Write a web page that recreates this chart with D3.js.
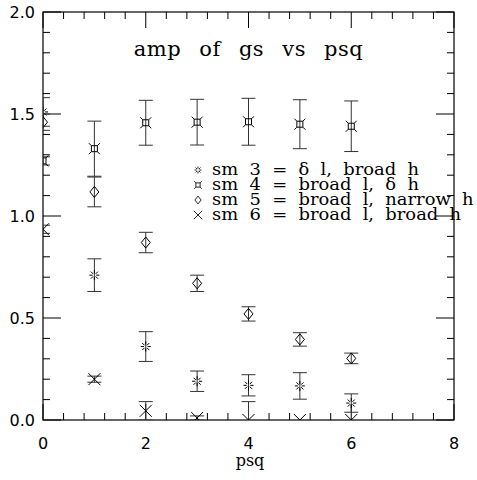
<html>
<head>
<meta charset="utf-8">
<title>amp of gs vs psq</title>
<script src="https://cdnjs.cloudflare.com/ajax/libs/d3/7.8.5/d3.min.js"></script>
<style>
  body { margin: 0; background: #fff; }
  text { fill: #000; }
</style>
</head>
<body>
<div id="chart"></div>
<script>
  // data
  const psq = [0, 1, 2, 3, 4, 5, 6];
  const sm3 = [1.51, 0.71, 0.36, 0.19, 0.17, 0.167, 0.083];
  const sm3Err = [0.07, 0.08, 0.073, 0.05, 0.052, 0.065, 0.045];
  const sm4 = [1.27, 1.33, 1.457, 1.46, 1.462, 1.45, 1.44];
  const sm4Err = [0.02, 0.135, 0.11, 0.112, 0.115, 0.12, 0.124];
  const sm5 = [1.46, 1.118, 0.87, 0.67, 0.52, 0.395, 0.302];
  const sm5Err = [0.04, 0.073, 0.05, 0.04, 0.035, 0.033, 0.026];
  const sm6 = [0.935, 0.2, 0.045, 0.01, 0.0, 0.0, 0.0];
  const sm6Err = [0.02, 0.015, 0.045, 0.01, 0.09, 0, 0];

  const legendLabels = [
    'sm 3 = \u03b4 l, broad h',
    'sm 4 = broad l, \u03b4 h',
    'sm 5 = broad l, narrow h',
    'sm 6 = broad l, broad h'
  ];
  const xTickLabels = ['0', '2', '4', '6', '8'];
  const yTickLabels = ['0.0', '0.5', '1.0', '1.5', '2.0'];

  const W = 477, H = 480;
  const mLeft = 43, mRight = 454, mTop = 12, mBottom = 420;

  const x = d3.scaleLinear().domain([0, 8]).range([mLeft, mRight]);
  const y = d3.scaleLinear().domain([0, 2]).range([mBottom, mTop]);

  const svg = d3.select('#chart').append('svg')
    .attr('width', W).attr('height', H);

  svg.append('defs').append('clipPath').attr('id', 'plot')
    .append('rect').attr('x', mLeft).attr('y', mTop)
    .attr('width', mRight - mLeft).attr('height', mBottom - mTop);

  // marker paths
  const markers = {
    star: (() => {
      let p = '';
      for (let k = 0; k < 8; k++) {
        const a = k * Math.PI / 4;
        p += `M${(1.8 * Math.cos(a)).toFixed(2)},${(1.8 * Math.sin(a)).toFixed(2)}L${(5 * Math.cos(a)).toFixed(2)},${(5 * Math.sin(a)).toFixed(2)}`;
      }
      return p;
    })(),
    box: 'M-3,-3H3V3H-3Z M-3,-3L-5.5,-5.5 M3,-3L5.5,-5.5 M3,3L5.5,5.5 M-3,3L-5.5,5.5',
    diamond: 'M0,-5.5L4.5,0L0,5.5L-4.5,0Z',
    cross: 'M-6,-6L6,6 M-6,6L6,-6'
  };

  const series = [
    { vals: sm3, err: sm3Err, m: 'star' },
    { vals: sm4, err: sm4Err, m: 'box' },
    { vals: sm5, err: sm5Err, m: 'diamond' },
    { vals: sm6, err: sm6Err, m: 'cross' }
  ];

  // frame
  svg.append('rect')
    .attr('x', mLeft).attr('y', mTop)
    .attr('width', mRight - mLeft).attr('height', mBottom - mTop)
    .attr('fill', 'none').attr('stroke', '#000').attr('stroke-width', 1.2);

  // ticks (pointing inward on all four sides)
  const xMinor = d3.range(0, 8.001, 0.4);
  const yMinor = d3.range(0, 2.001, 0.1);
  const isMajor = (v, step) => Math.abs(v / step - Math.round(v / step)) < 1e-6;
  const ticks = svg.append('g').attr('stroke', '#000').attr('stroke-width', 1);
  xMinor.forEach(v => {
    const len = isMajor(v, 2) ? 16 : 7;
    ticks.append('line').attr('x1', x(v)).attr('x2', x(v)).attr('y1', mBottom).attr('y2', mBottom - len);
    ticks.append('line').attr('x1', x(v)).attr('x2', x(v)).attr('y1', mTop).attr('y2', mTop + len);
  });
  yMinor.forEach(v => {
    const len = isMajor(v, 0.5) ? 18 : 7;
    ticks.append('line').attr('y1', y(v)).attr('y2', y(v)).attr('x1', mLeft).attr('x2', mLeft + len);
    ticks.append('line').attr('y1', y(v)).attr('y2', y(v)).attr('x1', mRight).attr('x2', mRight - len);
  });

  // tick labels
  svg.append('g').selectAll('text').data(xTickLabels).join('text')
    .attr('x', d => x(+d)).attr('y', 449)
    .attr('text-anchor', 'middle')
    .style('font-family', 'DejaVu Sans').style('font-size', '16px')
    .text(d => d);
  svg.append('g').selectAll('text').data(yTickLabels).join('text')
    .attr('x', 35).attr('y', d => y(+d) + 6)
    .attr('text-anchor', 'end')
    .style('font-family', 'DejaVu Sans').style('font-size', '16px')
    .text(d => d);

  // axis label + title
  svg.append('text').attr('x', 250).attr('y', 466)
    .attr('text-anchor', 'middle')
    .style('font-family', 'DejaVu Serif').style('font-size', '16px')
    .text('psq');
  svg.append('text').attr('x', (mLeft + mRight) / 2).attr('y', 56)
    .attr('text-anchor', 'middle')
    .style('font-family', 'DejaVu Serif').style('font-size', '21px')
    .style('letter-spacing', '0.5px').style('word-spacing', '11px')
    .text('amp of gs vs psq');

  // error bars + markers
  const plot = svg.append('g').attr('clip-path', 'url(#plot)');
  series.forEach(s => {
    const g = plot.append('g');
    psq.forEach((p, i) => {
      const e = s.err[i];
      if (e > 0) {
        const lo = y(s.vals[i] - e), hi = y(s.vals[i] + e);
        g.append('line').attr('x1', x(p)).attr('x2', x(p)).attr('y1', lo).attr('y2', hi)
          .attr('stroke', '#333').attr('stroke-width', 1);
        [lo, hi].forEach(yy => g.append('line')
          .attr('x1', x(p) - 7).attr('x2', x(p) + 7).attr('y1', yy).attr('y2', yy)
          .attr('stroke', '#333').attr('stroke-width', 1));
      }
    });
    g.selectAll('path').data(s.vals).join('path')
      .attr('transform', (d, i) => `translate(${x(psq[i])},${y(d)})`)
      .attr('d', markers[s.m])
      .attr('fill', 'none').attr('stroke', '#000').attr('stroke-width', 1);
  });

  // legend (glyphs in the original are a bit wider, so stretch horizontally)
  const legend = svg.append('g');
  legendLabels.forEach((lab, i) => {
    const cy = 170 + i * 15;
    legend.append('path')
      .attr('transform', `translate(198,${cy}) scale(0.7)`)
      .attr('d', markers[series[i].m])
      .attr('fill', 'none').attr('stroke', '#000').attr('stroke-width', 1.2);
    legend.append('text')
      .attr('transform', `translate(212,${cy + 5}) scale(1.12,1)`)
      .style('font-family', 'DejaVu Serif').style('font-size', '16px')
      .style('word-spacing', '5px')
      .text(lab);
  });
</script>
</body>
</html>
